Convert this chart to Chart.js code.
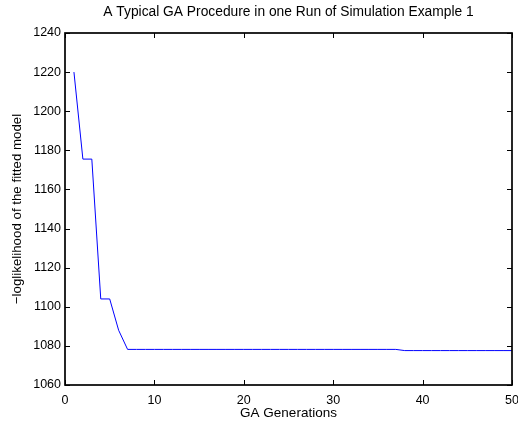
<!DOCTYPE html>
<html>
<head>
<meta charset="utf-8">
<script src="https://cdn.jsdelivr.net/npm/chart.js@4"></script>
<style>
  html, body { margin: 0; padding: 0; background: #fff; }
  #wrap { width: 518px; height: 423px; }
</style>
</head>
<body>
<div id="wrap"><canvas id="myChart" width="518" height="423"></canvas></div>
<script>
//data
const generations = [1, 2, 3, 4, 5, 6, 7, 8, 9, 10, 11, 12, 13, 14, 15, 16, 17, 18, 19, 20,
  21, 22, 23, 24, 25, 26, 27, 28, 29, 30, 31, 32, 33, 34, 35, 36, 37, 38, 39, 40,
  41, 42, 43, 44, 45, 46, 47, 48, 49, 50];
const loglik = [1220, 1175.5, 1175.5, 1104, 1104, 1088, 1078.2, 1078.2, 1078.2, 1078.2,
  1078.2, 1078.2, 1078.2, 1078.2, 1078.2, 1078.2, 1078.2, 1078.2, 1078.2, 1078.2,
  1078.2, 1078.2, 1078.2, 1078.2, 1078.2, 1078.2, 1078.2, 1078.2, 1078.2, 1078.2,
  1078.2, 1078.2, 1078.2, 1078.2, 1078.2, 1078.2, 1078.2, 1077.6, 1077.6, 1077.6,
  1077.6, 1077.6, 1077.6, 1077.6, 1077.6, 1077.6, 1077.6, 1077.6, 1077.6, 1077.6];
const xTicks = [0, 10, 20, 30, 40, 50];
const yTicks = [1060, 1080, 1100, 1120, 1140, 1160, 1180, 1200, 1220, 1240];

const FONT = "'Liberation Sans', Arial, sans-serif";

// matlab style box with inward ticks
const boxPlugin = {
  id: "box",
  afterDraw(chart) {
    const ctx = chart.ctx;
    const a = chart.chartArea;
    const xs = chart.scales.x, ys = chart.scales.y;
    const L = Math.round(a.left), R = Math.round(a.right);
    const T = Math.round(a.top), B = Math.round(a.bottom);
    ctx.save();
    ctx.strokeStyle = "#000";
    ctx.lineWidth = 1;
    ctx.beginPath();
    xTicks.forEach((v) => {
      const px = Math.round(xs.getPixelForValue(v)) + 0.5;
      ctx.moveTo(px, B); ctx.lineTo(px, B - 5);
      ctx.moveTo(px, T); ctx.lineTo(px, T + 5);
    });
    yTicks.forEach((v) => {
      const py = Math.round(ys.getPixelForValue(v)) + 0.5;
      ctx.moveTo(L, py); ctx.lineTo(L + 5, py);
      ctx.moveTo(R, py); ctx.lineTo(R - 5, py);
    });
    ctx.stroke();
    ctx.lineWidth = 1.7;
    ctx.strokeRect(L, T, R - L, B - T);
    ctx.restore();
  },
};

const config = {
  type: "line",
  data: {
    datasets: [
      {
        data: generations.map((g, i) => ({ x: g, y: loglik[i] })),
        borderColor: "#0000ff",
        borderWidth: 1,
        pointRadius: 0,
        fill: false,
        tension: 0,
      },
    ],
  },
  options: {
    responsive: false,
    animation: false,
    layout: { padding: { top: 0, right: 0, bottom: 0, left: 0 } },
    plugins: {
      legend: { display: false },
      tooltip: { enabled: false },
      title: {
        display: true,
        fullSize: false,
        text: "A Typical GA Procedure in one Run of Simulation Example 1",
        color: "#000",
        font: { family: FONT, size: 13.8, weight: "normal" },
        padding: { top: 4, bottom: 12.4 },
      },
    },
    scales: {
      x: {
        type: "linear",
        min: 0,
        max: 50,
        afterBuildTicks: (s) => { s.ticks = xTicks.map((v) => ({ value: v })); },
        afterFit: (s) => { s.height = 38; s.paddingRight = 6; s.paddingLeft = 0; },
        grid: { display: false, drawTicks: false },
        border: { display: false },
        ticks: {
          color: "#000", padding: 8, maxRotation: 0,
          font: { family: FONT, size: 12.5 },
          callback: (v) => String(v),
        },
        title: {
          display: true,
          text: "GA Generations",
          color: "#000",
          font: { family: FONT, size: 13.5 },
          padding: { top: 0, bottom: 2 },
        },
      },
      y: {
        min: 1060,
        max: 1240,
        afterBuildTicks: (s) => { s.ticks = yTicks.map((v) => ({ value: v })); },
        afterFit: (s) => { s.width = 65; },
        grid: { display: false, drawTicks: false },
        border: { display: false },
        ticks: {
          color: "#000", padding: 4,
          font: { family: FONT, size: 12.5 },
          callback: (v) => String(v),
        },
        title: {
          display: true,
          text: "\u2212loglikelihood of the fitted model",
          color: "#000",
          font: { family: FONT, size: 13.3 },
          padding: { top: 9, bottom: 0 },
        },
      },
    },
  },
  plugins: [boxPlugin],
};

const myChart = new Chart(document.getElementById("myChart"), config);
</script>
</body>
</html>
